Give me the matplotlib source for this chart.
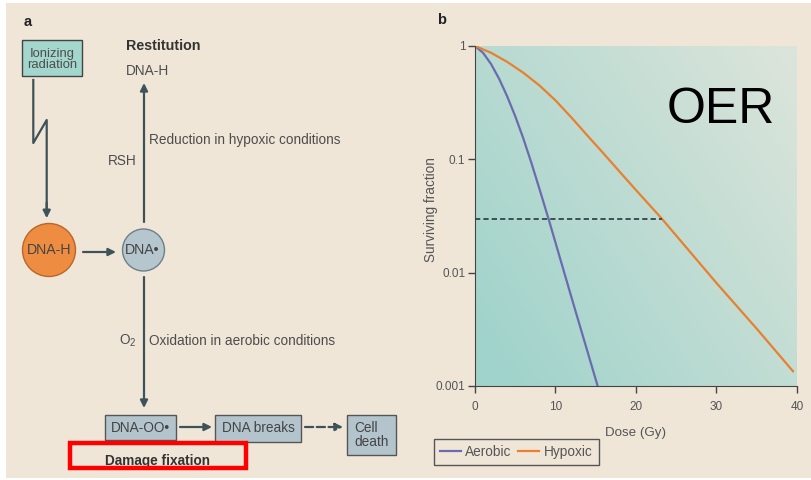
import numpy as np
import matplotlib
import matplotlib.pyplot as plt
from matplotlib.patches import Rectangle, Circle, FancyArrowPatch

matplotlib.rcParams["font.family"] = ["Liberation Sans", "DejaVu Sans"]

# 生存曲線 (読み取り値)
aerobic_dose = [0, 1, 2, 3, 4, 5, 6, 7, 8, 9.2, 12, 15.2]
aerobic_sf = [1, 0.871, 0.692, 0.513, 0.359, 0.240, 0.153, 0.0933, 0.055, 0.0288,
              0.0060, 0.00102]
hypoxic_dose = [0, 2, 4, 6, 8, 10, 12, 14, 16, 18, 20, 23.2, 30, 35, 39.5]
hypoxic_sf = [1, 0.871, 0.724, 0.581, 0.449, 0.331, 0.233, 0.161, 0.112, 0.0773,
              0.0535, 0.030, 0.0081, 0.0032, 0.00135]
oer_level = 0.03
oer_dose = 23.2
x_ticks = [0, 10, 20, 30, 40]
y_ticks = [1, 0.1, 0.01, 0.001]
y_tick_labels = ["1", "0.1", "0.01", "0.001"]

BEIGE = "#f0e6d8"
TXT = "#4d4d4d"
ARR = "#3f5259"

fig = plt.figure(figsize=(8.12, 4.8), dpi=100, facecolor="white")

# 左側の模式図はピクセル座標の全面 axes に描く
bg = fig.add_axes([0, 0, 1, 1], zorder=0)
bg.set_xlim(0, 812)
bg.set_ylim(480, 0)
bg.axis("off")
bg.add_patch(Rectangle((6, 3), 806, 475, facecolor=BEIGE, edgecolor="none"))

fs = 9.8
bg.text(24, 22, "a", fontsize=10.5, fontweight="bold", color="#222", va="center")
bg.text(437, 20, "b", fontsize=10.5, fontweight="bold", color="#222", va="center")

# Ionizing radiation box
bg.add_patch(Rectangle((22, 40), 60, 36, facecolor="#a3d6cc", edgecolor="#444", lw=1))
bg.text(52, 59.5, "Ionizing\nradiation", fontsize=9.4, color=TXT, ha="center", va="center",
        linespacing=0.88)
# lightning arrow
bg.plot([33.3, 33.3, 46.7, 46.7], [80, 143, 120, 214], color=ARR, lw=1.6)
bg.add_patch(FancyArrowPatch((46.7, 200), (46.7, 221), arrowstyle="-|>", mutation_scale=11,
                             color=ARR, lw=1.6))

# circles
bg.add_patch(Circle((49, 250), 26.5, facecolor="#ee8d42", edgecolor="#b9662a", lw=1))
bg.text(49, 250, "DNA-H", fontsize=10.2, color="#444", ha="center", va="center")
bg.add_patch(Circle((143.5, 250), 21, facecolor="#b5c6cf", edgecolor="#6d7f88", lw=1))
bg.text(142, 250, "DNA•", fontsize=10.2, color="#444", ha="center", va="center")

def arrow(p0, p1, ls="-"):
    bg.add_patch(FancyArrowPatch(p0, p1, arrowstyle="-|>", mutation_scale=11,
                                 color=ARR, lw=1.6, linestyle=ls, shrinkA=0, shrinkB=0))

arrow((83, 252), (116, 252))
arrow((144, 222), (144, 83))
arrow((144, 277), (144, 408))

bg.text(126, 46, "Restitution", fontsize=10.3, fontweight="bold", color="#333", va="center")
bg.text(126, 71, "DNA-H", fontsize=fs, color=TXT, va="center")
bg.text(149, 140, "Reduction in hypoxic conditions", fontsize=fs, color=TXT, va="center")
bg.text(137, 161, "RSH", fontsize=fs, color=TXT, va="center", ha="right")
bg.text(137, 341, r"O$_\mathregular{2}$", fontsize=fs, color=TXT, va="center", ha="right")
bg.text(149, 341, "Oxidation in aerobic conditions", fontsize=fs, color=TXT, va="center")

# bottom boxes
box_kw = dict(facecolor="#b3c4cd", edgecolor="#555", lw=1)
bg.add_patch(Rectangle((105, 415), 71, 25, **box_kw))
bg.text(140.5, 427.5, "DNA-OO•", fontsize=fs, color="#444", ha="center", va="center")
arrow((180, 427), (212, 427))
bg.add_patch(Rectangle((215, 415), 86, 27, **box_kw))
bg.text(258, 428, "DNA breaks", fontsize=fs, color="#444", ha="center", va="center")
arrow((305, 427), (343, 427), ls="--")
bg.add_patch(Rectangle((347, 415), 49, 40, **box_kw))
bg.text(354, 435, "Cell\ndeath", fontsize=fs, color="#444", ha="left", va="center",
        linespacing=1.0)

bg.text(105, 461, "Damage fixation", fontsize=fs, fontweight="bold", color="#333", va="center")
bg.add_patch(Rectangle((70, 443), 176, 25, facecolor="none", edgecolor="#ff0000", lw=3.2,
                       zorder=5))

# 右側: 生存曲線
pos = [475 / 812, (480 - 386) / 480, 322 / 812, 340 / 480]
grad_ax = fig.add_axes(pos, zorder=1)
gx, gy = np.meshgrid(np.linspace(0, 1, 200), np.linspace(0, 1, 200))
t = np.clip(0.65 * gx + 0.45 * (1 - gy) - 0.05, 0, 1)[..., None]
c0 = np.array(matplotlib.colors.to_rgb("#9fd3cb"))
c1 = np.array(matplotlib.colors.to_rgb("#dae4da"))
grad_ax.imshow(c0 + (c1 - c0) * t, extent=[0, 1, 0, 1], aspect="auto")
grad_ax.axis("off")

ax = fig.add_axes(pos, zorder=2)
ax.set_facecolor("none")
ax.set_yscale("log")
ax.plot(aerobic_dose, aerobic_sf, color="#6b6bb0", lw=1.6, label="Aerobic")
ax.plot(hypoxic_dose, hypoxic_sf, color="#e8802f", lw=1.6, label="Hypoxic")
ax.plot([0, oer_dose], [oer_level, oer_level], color="#3d4f55", lw=1.4, ls=(0, (2.7, 1.6)))
ax.set_xlim(0, 40)
ax.set_ylim(0.001, 1)
ax.set_xticks(x_ticks)
ax.set_yticks(y_ticks)
ax.set_yticklabels(y_tick_labels)
ax.minorticks_off()
ax.tick_params(labelsize=8.5, colors="#444", labelcolor="#555", length=5, width=1, pad=2)
ax.tick_params(axis="x", pad=6)
for s in ["top", "right"]:
    ax.spines[s].set_visible(False)
for s in ["left", "bottom"]:
    ax.spines[s].set_color("#444")
ax.set_xlabel("Dose (Gy)", fontsize=9.6, color="#555")
ax.xaxis.set_label_coords(0.5, -0.12)
ax.set_ylabel("Surviving fraction", fontsize=9.8, color="#555")
ax.yaxis.set_label_coords(-0.115, 0.518)
ax.text(0.762, 0.7735, "OER", transform=ax.transAxes, fontsize=36, color="black",
        ha="center", va="baseline")
leg = ax.legend(loc="lower left", bbox_to_anchor=(434 / 812, 15 / 480),
                bbox_transform=fig.transFigure, ncol=2, fontsize=9.8, frameon=True,
                fancybox=False, edgecolor="#555", facecolor=BEIGE, framealpha=1,
                handlelength=1.5, handletextpad=0.35, columnspacing=0.5, borderpad=0.45,
                borderaxespad=0)
for t_ in leg.get_texts():
    t_.set_color("#555")

fig.savefig("out.png", dpi=100, facecolor="white")
